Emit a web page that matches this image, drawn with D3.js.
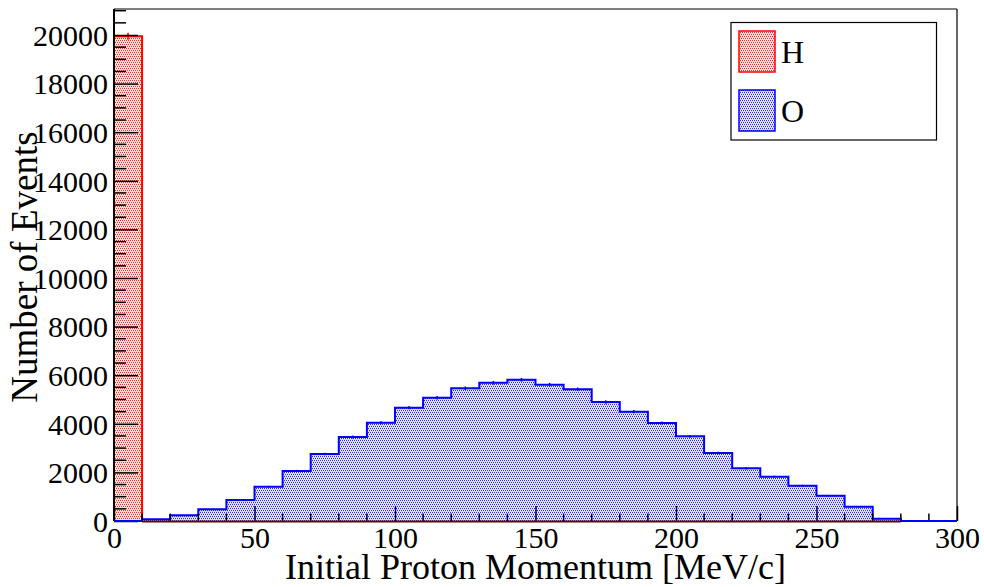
<!DOCTYPE html>
<html>
<head>
<meta charset="utf-8">
<script src="https://cdn.jsdelivr.net/npm/d3@7/dist/d3.min.js"></script>
<style>
  html, body { margin: 0; padding: 0; background: #fff; }
  svg { display: block; }
  text { font-family: "Liberation Serif", "Times New Roman", Times, serif; fill: #000; }
</style>
</head>
<body>
<svg id="chart" width="984" height="587"></svg>
<script>
// Histogram bin lower edges [MeV/c], bin width 10
const binEdges = d3.range(0, 300, 10);
const binWidth = 10;

// Counts per bin for each target nucleus
const countsH = [19950, 0, 0, 0, 0, 0, 0, 0, 0, 0,
                 0, 0, 0, 0, 0, 0, 0, 0, 0, 0,
                 0, 0, 0, 0, 0, 0, 0, 0, 0, 0];
const countsO = [0, 70, 235, 480, 865, 1410, 2060, 2755, 3455, 4045,
                 4665, 5075, 5460, 5690, 5815, 5610, 5420, 4895, 4500, 4035,
                 3485, 2800, 2170, 1825, 1455, 1040, 590, 95, 0, 0];

const xTicks = [0, 50, 100, 150, 200, 250, 300];
const yTicks = [0, 2000, 4000, 6000, 8000, 10000, 12000, 14000, 16000, 18000, 20000];

const seriesNames = ["H", "O"];
const seriesColors = ["#ff0000", "#0000ff"];

const xTitle = "Initial Proton Momentum [MeV/c]";
const yTitle = "Number of Events";

const serif = "'Liberation Serif', 'Times New Roman', Times, serif";

// Frame geometry
const frameL = 114, frameR = 957, frameT = 9, frameB = 521;

const svg = d3.select("#chart");

const x = d3.scaleLinear().domain([0, 300]).range([frameL, frameR]);
const y = d3.scaleLinear().domain([0, 21070]).range([frameB, frameT]);

// Dotted fill patterns
const defs = svg.append("defs");
function makePattern(id, color) {
  const p = defs.append("pattern")
    .attr("id", id)
    .attr("patternUnits", "userSpaceOnUse")
    .attr("width", 4).attr("height", 4);
  p.append("rect").attr("width", 4).attr("height", 4).attr("fill", "#fff");
  const cells = [[0,0],[2,0],[0,1],[1,1],[2,1],[3,1],[1,2],[3,2],[0,3],[1,3],[2,3],[3,3]];
  const op = [0.85,0.85,0.18,0.18,0.18,0.18,0.85,0.85,0.18,0.18,0.18,0.18];
  cells.forEach((c, i) => {
    p.append("rect").attr("x", c[0]).attr("y", c[1])
      .attr("width", 1).attr("height", 1)
      .attr("fill", color).attr("fill-opacity", op[i])
      .attr("shape-rendering", "crispEdges");
  });
}
makePattern("patH", "#ff0000");
makePattern("patO", "#0000ff");

// Step outline of a histogram
function stepPath(counts) {
  const pts = [[x(0), y(0)]];
  counts.forEach((c, i) => {
    const x0 = x(binEdges[i]), x1 = x(binEdges[i] + binWidth);
    pts.push([x0, y(c)], [x1, y(c)]);
  });
  pts.push([x(300), y(0)]);
  return d3.line()(pts);
}

function drawHist(counts, color, patId) {
  const g = svg.append("g");
  g.append("path")
    .attr("d", stepPath(counts) + "Z")
    .attr("fill", `url(#${patId})`)
    .attr("stroke", "none");
  g.append("path")
    .attr("d", stepPath(counts))
    .attr("fill", "none")
    .attr("stroke", color)
    .attr("stroke-width", 2);
  // statistical error bars
  g.selectAll("line.err")
    .data(counts.map((c, i) => ({ c, i })).filter(d => d.c > 0))
    .join("line")
    .attr("class", "err")
    .attr("x1", d => x(binEdges[d.i] + binWidth / 2))
    .attr("x2", d => x(binEdges[d.i] + binWidth / 2))
    .attr("y1", d => y(d.c - Math.sqrt(d.c)))
    .attr("y2", d => y(d.c + Math.sqrt(d.c)))
    .attr("stroke", color)
    .attr("stroke-width", 1.5);
}

drawHist(countsH, seriesColors[0], "patH");
drawHist(countsO, seriesColors[1], "patO");

// Frame
svg.append("line").attr("x1", frameL).attr("x2", frameR).attr("y1", frameT).attr("y2", frameT)
  .attr("stroke", "#000").attr("stroke-width", 1.2);
svg.append("line").attr("x1", frameR).attr("x2", frameR).attr("y1", frameT).attr("y2", frameB)
  .attr("stroke", "#000").attr("stroke-width", 1.2);

// Y axis with major and minor ticks
const yAxis = d3.axisLeft(y)
  .tickValues(yTicks)
  .tickSize(-24)
  .tickPadding(30)
  .tickFormat(d3.format("d"));
const gy = svg.append("g").attr("transform", `translate(${frameL},0)`).call(yAxis);
gy.attr("font-family", serif).attr("font-size", 30);
gy.select(".domain").attr("stroke", "#000").attr("stroke-width", 2)
  .attr("d", `M0,${frameB}V${frameT}`);
gy.selectAll(".tick line").attr("stroke", "#000").attr("stroke-width", 1.5);
gy.selectAll(".tick text")
  .attr("x", -6)
  .attr("dy", "0.34em")
  .style("font-family", serif)
  .style("font-size", "30px");
const yMinor = d3.range(500, 21070, 500).filter(v => v % 2000 !== 0);
svg.append("g").selectAll("line").data(yMinor).join("line")
  .attr("x1", frameL).attr("x2", frameL + 12)
  .attr("y1", d => y(d)).attr("y2", d => y(d))
  .attr("stroke", "#000").attr("stroke-width", 1.5);

// X axis with major and minor ticks
const xAxis = d3.axisBottom(x)
  .tickValues(xTicks)
  .tickSize(-15)
  .tickPadding(0)
  .tickFormat(d3.format("d"));
const gx = svg.append("g").attr("transform", `translate(0,${frameB})`).call(xAxis);
gx.attr("font-family", serif).attr("font-size", 30);
gx.select(".domain").attr("stroke", "none");
gx.selectAll(".tick line").attr("stroke", "#000").attr("stroke-width", 1.5);
gx.selectAll(".tick text")
  .attr("y", 27)
  .attr("dy", 0)
  .style("font-family", serif)
  .style("font-size", "30px");
const xMinor = d3.range(10, 300, 10).filter(v => v % 50 !== 0);
svg.append("g").selectAll("line").data(xMinor).join("line")
  .attr("x1", d => x(d)).attr("x2", d => x(d))
  .attr("y1", frameB).attr("y2", frameB - 7.5)
  .attr("stroke", "#000").attr("stroke-width", 1.5);

// Baseline where the empty H bins run along zero
svg.append("line")
  .attr("x1", x(10)).attr("x2", x(280))
  .attr("y1", frameB + 0.5).attr("y2", frameB + 0.5)
  .attr("stroke", "#5a0a0a").attr("stroke-width", 2);
svg.append("line")
  .attr("x1", x(280)).attr("x2", x(300))
  .attr("y1", frameB).attr("y2", frameB)
  .attr("stroke", "#0000ff").attr("stroke-width", 2);
svg.append("line")
  .attr("x1", x(0)).attr("x2", x(10))
  .attr("y1", frameB).attr("y2", frameB)
  .attr("stroke", "#0000ff").attr("stroke-width", 2);

// Axis titles
svg.append("text")
  .attr("x", (frameL + frameR) / 2)
  .attr("y", 579)
  .attr("text-anchor", "middle")
  .style("font-family", serif)
  .style("font-size", "36px")
  .text(xTitle);
svg.append("text")
  .attr("transform", `translate(37,267) rotate(-90)`)
  .attr("text-anchor", "middle")
  .style("font-family", serif)
  .style("font-size", "37px")
  .text(yTitle);

// Legend
const legend = svg.append("g");
legend.append("rect")
  .attr("x", 731).attr("y", 22.5).attr("width", 205.5).attr("height", 117.5)
  .attr("fill", "#fff").attr("stroke", "#000").attr("stroke-width", 1.2);
const legY = [31, 90];
seriesNames.forEach((name, i) => {
  legend.append("rect")
    .attr("x", 739).attr("y", legY[i]).attr("width", 36).attr("height", 41)
    .attr("fill", `url(#${i === 0 ? "patH" : "patO"})`)
    .attr("stroke", seriesColors[i]).attr("stroke-width", 1.5);
  legend.append("text")
    .attr("x", 781).attr("y", legY[i] + 32)
    .style("font-family", serif)
    .style("font-size", "32px")
    .text(name);
});
</script>
</body>
</html>
